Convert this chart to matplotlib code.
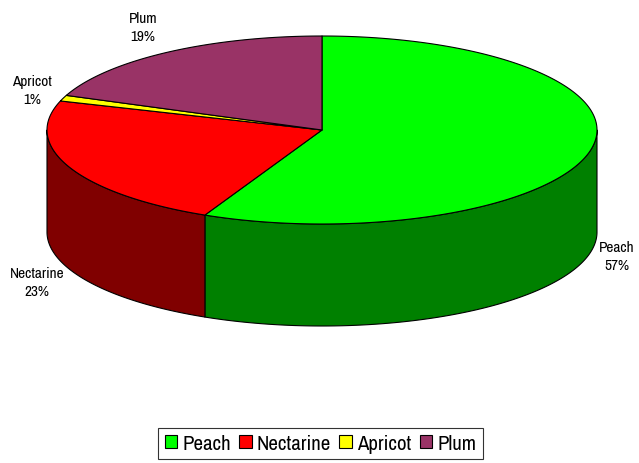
import numpy as np
import matplotlib
matplotlib.use("Agg")
import matplotlib.pyplot as plt
from matplotlib.patches import Polygon, Patch
from matplotlib import font_manager

categories = ["Peach", "Nectarine", "Apricot", "Plum"]
values = [57, 23, 1, 19]
top_colors = ["#00FF00", "#FF0000", "#FFFF00", "#993366"]
side_colors = ["#008000", "#800000", "#808000", "#4D1A33"]

names = {f.name for f in font_manager.fontManager.ttflist}
fam = ["Archivo Narrow", "Liberation Sans", "DejaVu Sans"]
fam = [f for f in fam if f in names] or ["DejaVu Sans"]
plt.rcParams["font.family"] = fam

W, H = 639, 464
fig = plt.figure(figsize=(W / 100, H / 100), dpi=100)
ax = fig.add_axes([0, 0, 1, 1])
ax.set_xlim(0, W)
ax.set_ylim(H, 0)
ax.axis("off")

cx, cy, a, b, depth = 322, 131, 275, 94, 102

total = float(sum(values))
fracs = np.cumsum([0] + values) / total
angles = 90 - 360 * fracs

def arc(t0, t1, n=200, dy=0):
    t = np.radians(np.linspace(t0, t1, n))
    return np.column_stack([cx + a * np.cos(t), cy - b * np.sin(t) + dy])

for i in range(len(values)):
    t0, t1 = angles[i], angles[i + 1]
    for shift in (0, -360, 360):
        s0, s1 = t0 + shift, t1 + shift
        lo, hi = max(s1, -180), min(s0, 0)
        if hi > lo:
            top = arc(hi, lo)
            bot = arc(lo, hi, dy=depth)
            ax.add_patch(Polygon(np.vstack([top, bot]), closed=True,
                                 facecolor=side_colors[i], edgecolor="black",
                                 linewidth=0.8, joinstyle="round"))

for i in range(len(values)):
    t0, t1 = angles[i], angles[i + 1]
    pts = np.vstack([[cx, cy], arc(t0, t1)])
    ax.add_patch(Polygon(pts, closed=True, facecolor=top_colors[i],
                         edgecolor="black", linewidth=0.8, joinstyle="round"))

label_pos = [(617, 257), (37, 283), (32, 91), (143, 28)]
for i, (x, y) in enumerate(label_pos):
    pct = round(100 * values[i] / total)
    ax.text(x, y, f"{categories[i]}\n{pct}%", ha="center", va="center",
            fontsize=11, color="black", linespacing=1.35)

handles = [Patch(facecolor=c, edgecolor="black", linewidth=0.8) for c in top_colors]
leg = fig.legend(handles, categories, loc="center", ncol=4,
                 bbox_to_anchor=(320.5 / W, 1 - 444.5 / H), frameon=True,
                 fancybox=False, fontsize=15, handlelength=0.6,
                 handleheight=0.6, handletextpad=0.25, columnspacing=0.4,
                 borderpad=0.3, borderaxespad=0)
leg.get_frame().set_edgecolor("black")
leg.get_frame().set_linewidth(0.8)

fig.savefig("out.png", dpi=100, facecolor="white")
